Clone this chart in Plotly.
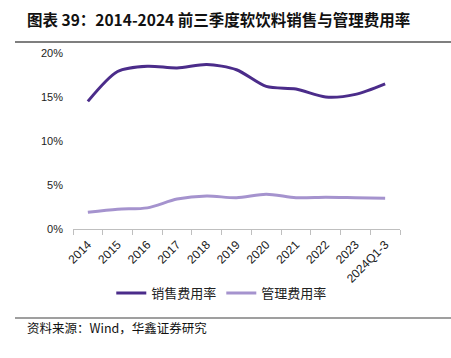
import plotly.graph_objects as go

categories = ["2014", "2015", "2016", "2017", "2018", "2019", "2020", "2021", "2022", "2023", "2024Q1-3"]
sales_rate = [14.5, 17.9, 18.5, 18.3, 18.7, 18.1, 16.2, 15.9, 15.0, 15.3, 16.5]
admin_rate = [1.9, 2.25, 2.4, 3.4, 3.75, 3.55, 3.95, 3.55, 3.6, 3.55, 3.5]

cjk = "Noto Sans CJK SC"
num = "Liberation Sans"

fig = go.Figure()
fig.add_trace(go.Scatter(x=categories, y=[v / 100 for v in sales_rate], mode="lines",
                         name="销售费用率", line=dict(color="#4B2C8A", width=3, shape="spline", smoothing=0.8)))
fig.add_trace(go.Scatter(x=categories, y=[v / 100 for v in admin_rate], mode="lines",
                         name="管理费用率", line=dict(color="#A593CE", width=3, shape="spline", smoothing=0.8)))

fig.update_layout(
    width=451, height=358,
    margin=dict(l=73, r=51, t=53, b=129, autoexpand=False),
    plot_bgcolor="white", paper_bgcolor="white",
    showlegend=True,
    legend=dict(orientation="h", x=0.455, xanchor="center", y=(229 - 293) / 176, yanchor="middle",
                font=dict(family=cjk, size=13, color="#222"), itemwidth=30, tracegroupgap=0),
    xaxis=dict(type="category", tickangle=-45, tickfont=dict(family=num, size=12, color="#222"),
               showline=True, linecolor="#BFBFBF", linewidth=1, ticks="outside", tickson="boundaries",
               tickcolor="#BFBFBF", ticklen=5, ticklabelstandoff=3, showgrid=False, range=[-0.5, 10.5],
               automargin=False),
    yaxis=dict(range=[0, 0.2], tickvals=[0, 0.05, 0.10, 0.15, 0.20], tickformat=".0%",
               tickfont=dict(family=num, size=11, color="#222"), showgrid=False, zeroline=False,
               showline=False, ticks="", ticklabelstandoff=9, automargin=False),
    annotations=[
        dict(text="<b>图表 39：2014-2024 前三季度软饮料销售与管理费用率</b>", xref="paper", yref="paper",
             x=(25 - 73) / 327, y=(358 - 129 - 19) / 176, xanchor="left", yanchor="middle", showarrow=False,
             font=dict(family=cjk, size=15.5, color="#111")),
        dict(text="资料来源：Wind，华鑫证券研究", xref="paper", yref="paper",
             x=(25 - 73) / 327, y=(358 - 129 - 327) / 176, xanchor="left", yanchor="middle", showarrow=False,
             font=dict(family=cjk, size=12.5, color="#111")),
    ],
    shapes=[
        dict(type="line", xref="paper", yref="paper", x0=(15 - 73) / 327, x1=(451 - 73) / 327,
             y0=(358 - 129 - 42) / 176, y1=(358 - 129 - 42) / 176, line=dict(color="#7F7F7F", width=2)),
        dict(type="line", xref="paper", yref="paper", x0=(15 - 73) / 327, x1=(451 - 73) / 327,
             y0=(358 - 129 - 318) / 176, y1=(358 - 129 - 318) / 176, line=dict(color="#7F7F7F", width=1.5)),
    ],
)

fig.write_html("out.html", config={"displayModeBar": False},
               post_script="document.body.style.margin='0';document.body.style.overflow='hidden';")
